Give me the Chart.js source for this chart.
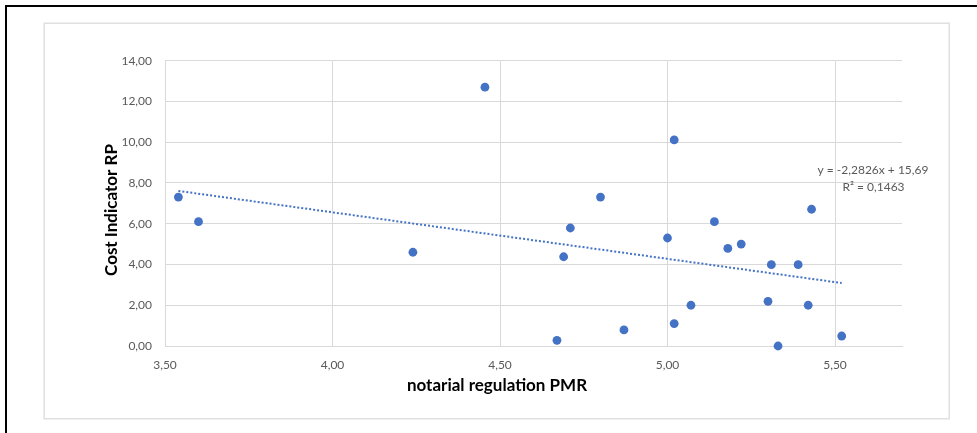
<!DOCTYPE html>
<html>
<head>
<meta charset="utf-8">
<script src="https://cdn.jsdelivr.net/npm/chart.js@4/dist/chart.umd.min.js"></script>
<style>
  html, body { margin: 0; padding: 0; background: #ffffff; }
  #wrap { width: 977px; height: 433px; position: relative; }
</style>
</head>
<body>
<div id="wrap"><canvas id="c" width="977" height="433"></canvas></div>
<script>
// ---- data ----
const pmrValues  = [3.54, 3.60, 4.24, 4.455, 4.67, 4.69, 4.71, 4.80, 4.87, 5.00, 5.02, 5.02,
                    5.07, 5.14, 5.18, 5.22, 5.30, 5.31, 5.33, 5.39, 5.42, 5.43, 5.52];
const costValues = [7.31, 6.10, 4.60, 12.70, 0.28, 4.38, 5.79, 7.31, 0.79, 5.30, 1.10, 10.11,
                    2.00, 6.10, 4.79, 5.00, 2.19, 3.99, 0.00, 3.99, 2.00, 6.71, 0.49];
const trendX = [3.54, 5.52];
const trendY = [7.61, 3.09];
const xTickValues = [3.5, 4.0, 4.5, 5.0, 5.5];
const yTickValues = [0, 2, 4, 6, 8, 10, 12, 14];
const xTitle = 'notarial regulation PMR';
const yTitle = 'Cost Indicator RP';
const equationText = 'y = -2,2826x + 15,69';
const r2Text = 'R² = 0,1463';

const points = pmrValues.map((x, i) => ({ x: x, y: costValues[i] }));
const trendPoints = trendX.map((x, i) => ({ x: x, y: trendY[i] }));

const BLUE = '#4472c4';
const GRID = '#d9d9d9';
const TXT = '#595959';
const FONT = 'Lato, "Open Sans", sans-serif';

const frame = {
  id: 'frame',
  beforeDraw(chart) {
    const ctx = chart.ctx;
    ctx.save();
    ctx.fillStyle = '#ffffff';
    ctx.fillRect(0, 0, chart.width, chart.height);
    ctx.strokeStyle = '#e0e0e0';
    ctx.lineWidth = 1.5;
    ctx.strokeRect(44.25, 23.25, 905, 395.5);
    ctx.strokeStyle = '#000000';
    ctx.lineWidth = 2;
    ctx.beginPath();
    ctx.moveTo(5, 6); ctx.lineTo(977, 6);
    ctx.moveTo(6, 5); ctx.lineTo(6, 433);
    ctx.stroke();
    ctx.restore();
  },
  afterDraw(chart) {
    const ctx = chart.ctx;
    ctx.save();
    // trendline label
    ctx.fillStyle = TXT;
    ctx.font = '12px ' + FONT;
    ctx.textAlign = 'center';
    ctx.textBaseline = 'middle';
    ctx.fillText(equationText, 873, 170);
    ctx.fillText(r2Text, 873.5, 187);
    // axis titles (Excel places them off the plot centre)
    ctx.fillStyle = '#000000';
    ctx.font = 'bold 17px ' + FONT;
    ctx.fillText(xTitle, 497, 386);
    ctx.translate(112, 210);
    ctx.rotate(-Math.PI / 2);
    ctx.fillText(yTitle, 0, 0);
    ctx.restore();
  }
};

new Chart(document.getElementById('c'), {
  type: 'scatter',
  data: {
    datasets: [
      {
        data: points,
        backgroundColor: BLUE,
        borderColor: BLUE,
        borderWidth: 0,
        pointRadius: 4.4,
        pointHoverRadius: 4.4,
        clip: false,
        order: 1
      },
      {
        type: 'line',
        data: trendPoints,
        borderColor: BLUE,
        borderWidth: 2,
        borderDash: [2, 2],
        borderCapStyle: 'butt',
        pointRadius: 0,
        fill: false,
        order: 2
      }
    ]
  },
  plugins: [frame],
  options: {
    responsive: false,
    animation: false,
    events: [],
    layout: { padding: { left: 102, top: 60.7, right: 75, bottom: 37 } },
    plugins: {
      legend: { display: false },
      tooltip: { enabled: false }
    },
    scales: {
      x: {
        type: 'linear',
        min: 3.5,
        max: 5.7,
        afterBuildTicks(scale) { scale.ticks = xTickValues.map(v => ({ value: v })); },
        afterFit(scale) { scale.height = 50; },
        ticks: {
          autoSkip: false,
          maxRotation: 0,
          padding: 12,
          color: TXT,
          font: { family: FONT, size: 12 },
          callback: v => v.toFixed(2).replace('.', ',')
        },
        grid: { color: GRID, lineWidth: 1, drawTicks: false },
        border: { color: GRID, width: 1 },
        title: { display: false, text: xTitle }
      },
      y: {
        type: 'linear',
        min: 0,
        max: 14,
        afterBuildTicks(scale) { scale.ticks = yTickValues.map(v => ({ value: v })); },
        afterFit(scale) { scale.width = 63; },
        ticks: {
          padding: 13,
          color: TXT,
          font: { family: FONT, size: 12 },
          callback: v => v.toFixed(2).replace('.', ',')
        },
        grid: { color: GRID, lineWidth: 1, drawTicks: false },
        border: { color: GRID, width: 1 },
        title: { display: false, text: yTitle }
      }
    }
  }
});
</script>
</body>
</html>
